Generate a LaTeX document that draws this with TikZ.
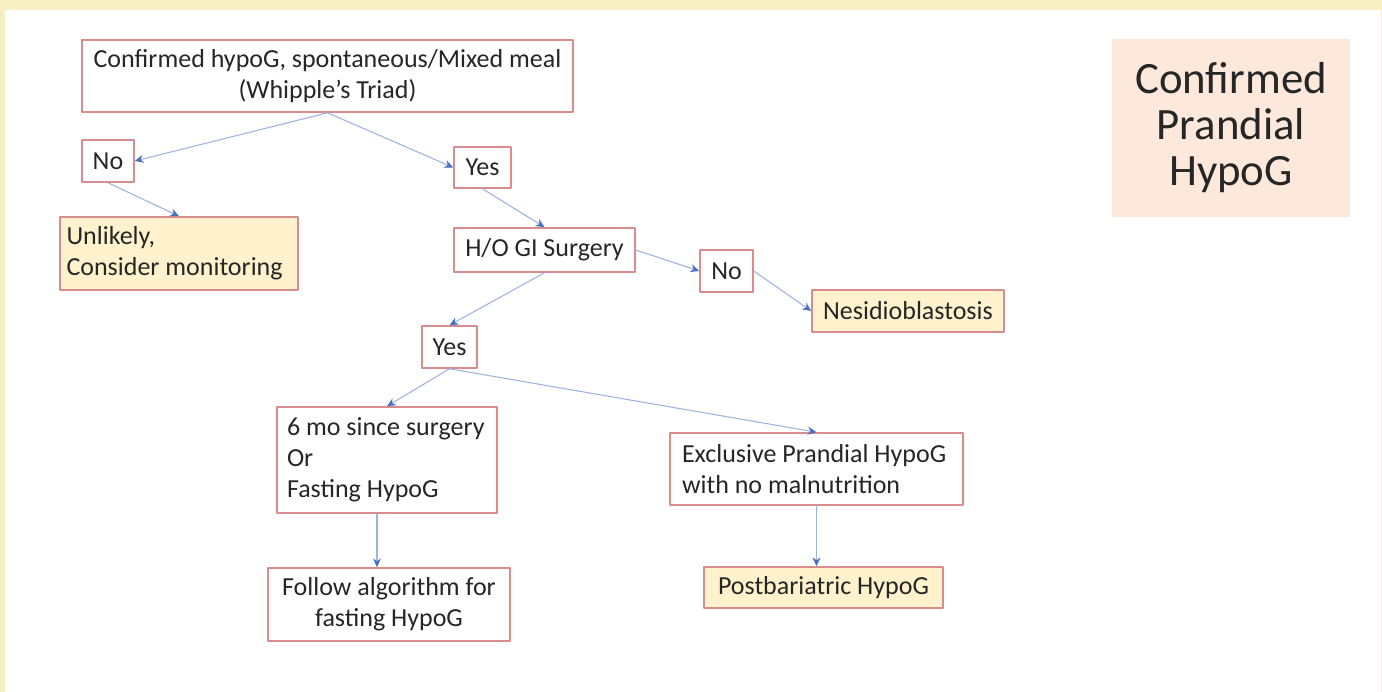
\documentclass[tikz,border=0pt]{standalone}
\usepackage{fontspec}
\setmainfont{Carlito}
\usetikzlibrary{arrows.meta}
\definecolor{frameyel}{HTML}{F8EFC4}
\definecolor{boxred}{HTML}{D98C8E}
\definecolor{endfill}{HTML}{FFF2CC}
\definecolor{titlefill}{HTML}{FCE9DC}
\definecolor{linkblue}{HTML}{9DB3E0}
\definecolor{tipblue}{HTML}{4A6FC0}
\definecolor{inkgray}{HTML}{262626}

\begin{document}
\begin{tikzpicture}[line cap=round,line join=round,>={Stealth[length=5pt,width=4.5pt,color=tipblue]},
  every node/.style={inner sep=0pt,text=inkgray,font=\fontsize{14.8pt}{17.6pt}\selectfont},
  box/.style={draw=boxred,line width=0.9pt,fill=white},
  endbox/.style={box,fill=endfill},
  flow/.style={->,draw=linkblue,line width=0.6pt}]
  \def\W{27.64}
  \def\H{13.84}
  \fill[frameyel] (0,0) rectangle (\W,-\H);
  \fill[white] (0.1,-0.2) rectangle (\W-0.02,-\H);
  \useasboundingbox (0,0) rectangle (\W,-\H);
  % questions
  \node[box,minimum width=9.82cm,minimum height=1.44cm,align=center] (conf) at (6.55,-1.52) {Confirmed hypoG, spontaneous/Mixed meal\\(Whipple's Triad)};
  \node[box,minimum width=1.04cm,minimum height=0.84cm] (noA) at (2.16,-3.22) {No};
  \node[box,minimum width=1.14cm,minimum height=0.82cm] (yesA) at (9.65,-3.35) {Yes};
  \node[box,minimum width=3.62cm,minimum height=0.88cm] (hogi) at (10.89,-5.00) {H/O GI Surgery};
  \node[box,minimum width=1.06cm,minimum height=0.84cm] (noB) at (14.53,-5.42) {No};
  \node[box,minimum width=1.10cm,minimum height=0.84cm] (yesB) at (8.99,-6.94) {Yes};
  \node[box,text width=4.0cm,inner xsep=0.2cm,minimum height=2.12cm,align=flush left] (sixmo) at (7.74,-9.20) {6 mo since surgery\\Or\\Fasting HypoG};
  \node[box,text width=5.38cm,inner xsep=0.24cm,minimum height=1.44cm,align=flush left] (exclus) at (16.33,-9.38) {Exclusive Prandial HypoG\\with no malnutrition};
  % outcomes
  \node[endbox,text width=4.5cm,inner xsep=0.13cm,minimum height=1.46cm,align=flush left] (unlikely) at (3.58,-5.07) {Unlikely,\\Consider monitoring};
  \node[endbox,minimum width=3.84cm,minimum height=0.84cm] (nesid) at (18.16,-6.22) {Nesidioblastosis};
  \node[box,minimum width=4.84cm,minimum height=1.46cm,align=center] (follow) at (7.78,-12.09) {Follow algorithm for\\fasting HypoG};
  \node[endbox,minimum width=4.78cm,minimum height=0.82cm] (postbar) at (16.47,-11.75) {Postbariatric HypoG};
  \node[fill=titlefill,minimum width=4.76cm,minimum height=3.56cm,align=center,font=\fontsize{25.5pt}{26.2pt}\selectfont] (title) at (24.62,-2.56) {Confirmed\\Prandial\\HypoG};
  % links
  \draw[flow] (conf.south) -- (noA.east);
  \draw[flow] (conf.south) -- (yesA.west);
  \draw[flow] (noA.south) -- (unlikely.north);
  \draw[flow] (yesA.south) -- (hogi.north);
  \draw[flow] (hogi.east) -- (noB.west);
  \draw[flow] (noB.east) -- (nesid.west);
  \draw[flow] (hogi.south) -- (yesB.north);
  \draw[flow] (yesB.south) -- (sixmo.north);
  \draw[flow] (yesB.south) -- (exclus.north);
  \draw[flow] ([xshift=-0.2cm]sixmo.south) -- ([xshift=-0.2cm]sixmo.south |- follow.north);
  \draw[flow] (exclus.south) -- (exclus.south |- postbar.north);
\end{tikzpicture}
\end{document}
